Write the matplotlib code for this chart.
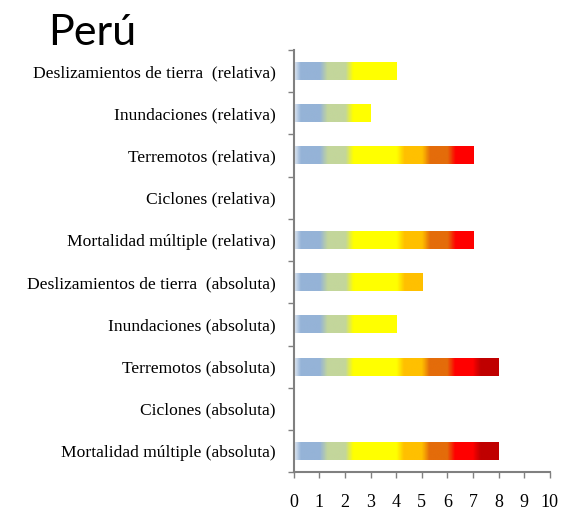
import numpy as np
import matplotlib
matplotlib.use("Agg")
from matplotlib import pyplot as plt
from matplotlib.colors import LinearSegmentedColormap

categories = [
    "Deslizamientos de tierra  (relativa)",
    "Inundaciones (relativa)",
    "Terremotos (relativa)",
    "Ciclones (relativa)",
    "Mortalidad múltiple (relativa)",
    "Deslizamientos de tierra  (absoluta)",
    "Inundaciones (absoluta)",
    "Terremotos (absoluta)",
    "Ciclones (absoluta)",
    "Mortalidad múltiple (absoluta)",
]
values = [4, 3, 7, 0, 7, 5, 4, 8, 0, 8]

# colour band along x (0..8), one shade per unit
stops = [0.0, 0.25, 1.0, 1.3, 2.0, 2.3, 4.0, 4.3, 5.0, 5.3, 6.0, 6.3, 7.0, 7.3, 8.0]
shades = ["#dde6f0", "#95b3d7", "#95b3d7", "#c3d69b", "#c3d69b", "#ffff00", "#ffff00",
          "#ffc000", "#ffc000", "#e46c0a", "#e46c0a", "#ff0000", "#ff0000", "#c00000", "#c00000"]
cmap = LinearSegmentedColormap.from_list("heat", list(zip([s / 8 for s in stops], shades)))

fig = plt.figure(figsize=(5.64, 5.11), dpi=100)
ax = fig.add_axes([0.521, 0.076, 0.454, 0.826])

n = len(categories)
ypos = np.arange(n)[::-1]
h = 0.42
for y, v in zip(ypos, values):
    if v <= 0:
        continue
    xs = np.linspace(0, v, 400)
    grad = cmap(xs / 8)[np.newaxis, :, :]
    ax.imshow(grad, extent=(0, v, y - h / 2, y + h / 2), aspect="auto",
              interpolation="bilinear", zorder=2)

ax.set_xlim(0, 10)
ax.set_ylim(-0.5, n - 0.5)
ax.set_xticks(range(0, 11))
ax.set_yticks(ypos)
ax.set_yticklabels(categories, fontfamily="Liberation Serif", fontsize=12.6)
ax.set_yticks(np.arange(-0.5, n, 1), minor=True)
for lab in ax.get_xticklabels():
    lab.set_fontfamily("Liberation Serif")
    lab.set_fontsize(13)
ax.tick_params(axis="y", which="major", length=0, pad=13)
ax.tick_params(axis="y", which="minor", length=4, color="#808080", width=1)
ax.tick_params(axis="x", length=4, color="#808080", width=1, pad=12)

for side in ["top", "right"]:
    ax.spines[side].set_visible(False)
for side in ["left", "bottom"]:
    ax.spines[side].set_color("#808080")
    ax.spines[side].set_linewidth(1.5)

fig.text(0.085, 0.912, "Perú", fontfamily="Lato", fontsize=31, va="baseline")

fig.savefig("out.png", dpi=100)
